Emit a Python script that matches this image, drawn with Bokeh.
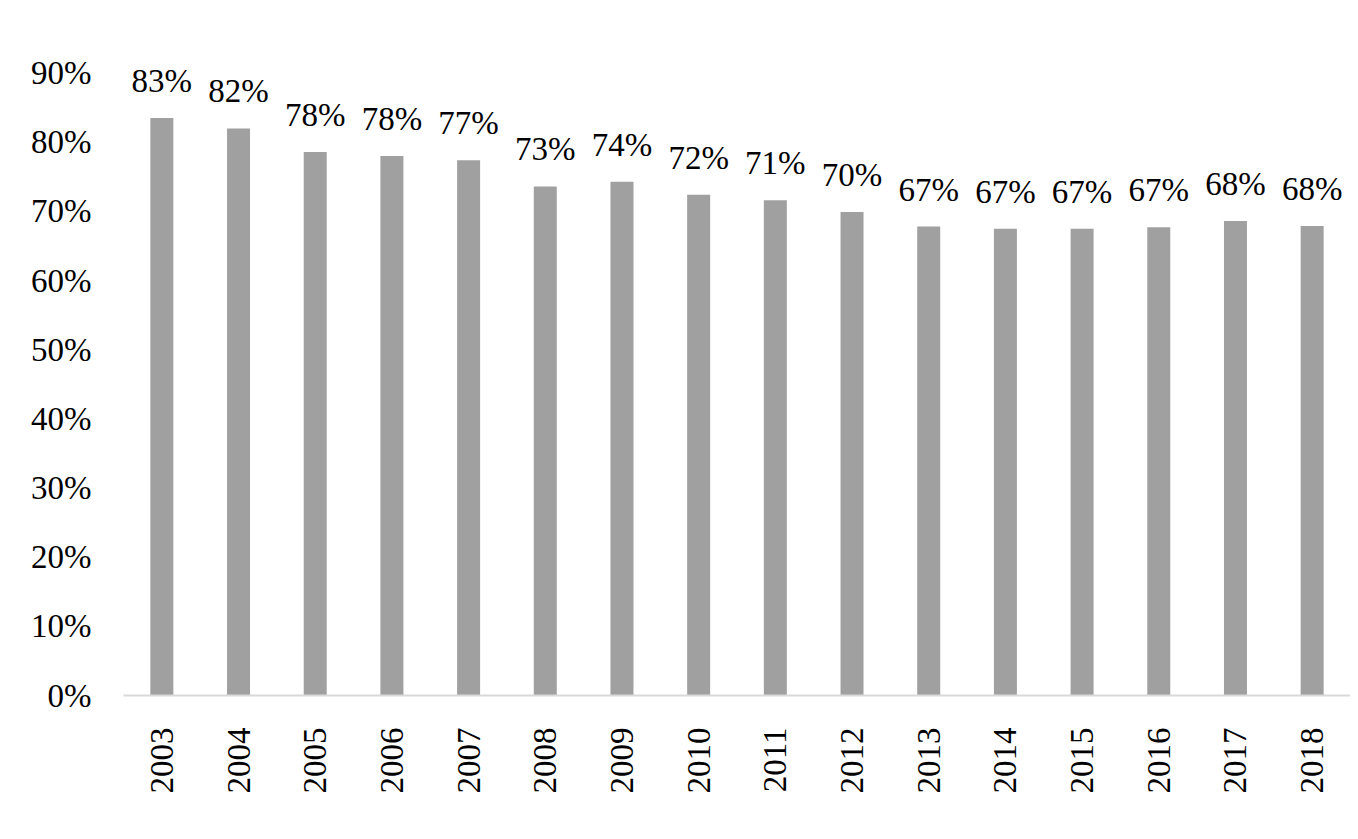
import math
from bokeh.plotting import figure
from bokeh.models import ColumnDataSource, FactorRange, Range1d, FixedTicker, PrintfTickFormatter
from bokeh.core.properties import value
from bokeh.embed import file_html
from bokeh.resources import INLINE

# Data
years = [str(y) for y in range(2003, 2019)]
shares = [83.5, 82.0, 78.6, 78.0, 77.4, 73.6, 74.3, 72.4, 71.6, 69.9, 67.8, 67.5, 67.5, 67.7, 68.6, 67.9]
share_labels = ["83%", "82%", "78%", "78%", "77%", "73%", "74%", "72%", "71%", "70%",
                "67%", "67%", "67%", "67%", "68%", "68%"]
y_ticks = [0, 10, 20, 30, 40, 50, 60, 70, 80, 90]

FONT = "Liberation Serif"
BAR_COLOR = "#a0a0a0"


def build_figure():
    source = ColumnDataSource(data=dict(year=years, share=shares, label=share_labels))

    p = figure(
        x_range=FactorRange(*years), y_range=Range1d(0, 95),
        width=1350, height=822, output_backend="svg", toolbar_location=None,
        tools="", min_border_left=123, min_border_top=38,
        min_border_bottom=127, min_border_right=0,
    )
    p.outline_line_color = None
    p.xgrid.grid_line_color = None
    p.ygrid.grid_line_color = None

    p.vbar(x="year", top="share", width=0.3, source=source,
           fill_color=BAR_COLOR, line_color=None)
    p.text(x="year", y="share", text="label", source=source,
           text_font=value(FONT), text_font_size="33px", text_color="black",
           text_align="center", text_baseline="alphabetic", y_offset=-37)

    # y axis: percentages, no line or ticks
    p.yaxis.ticker = FixedTicker(ticks=y_ticks)
    p.yaxis.formatter = PrintfTickFormatter(format="%d%%")
    p.yaxis.axis_line_color = None
    p.yaxis.major_tick_line_color = None
    p.yaxis.minor_tick_line_color = None
    p.yaxis.major_label_standoff = 26
    p.yaxis.major_label_text_font = FONT
    p.yaxis.major_label_text_font_size = "33px"
    p.yaxis.major_label_text_color = "black"

    # x axis: vertical year labels
    p.xaxis.axis_line_color = "#d9d9d9"
    p.xaxis.axis_line_width = 2
    p.xaxis.major_tick_line_color = None
    p.xaxis.minor_tick_line_color = None
    p.xaxis.major_label_orientation = math.pi / 2
    p.xaxis.major_label_standoff = 26
    p.xaxis.major_label_text_font = FONT
    p.xaxis.major_label_text_font_size = "33px"
    p.xaxis.major_label_text_color = "black"
    return p


p = build_figure()
open("out.html", "w").write(file_html(p, INLINE))
